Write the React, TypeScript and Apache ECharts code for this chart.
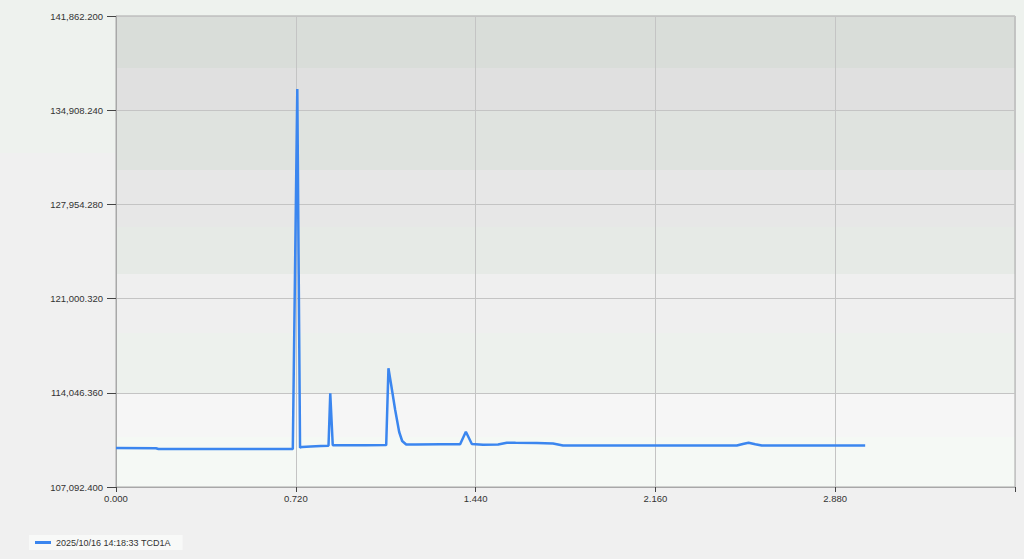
import React, { useEffect, useRef } from "react";
import * as echarts from "echarts";

const times: number[] = [
  0.0, 0.16, 0.17, 0.7, 0.708, 0.726, 0.737, 0.745, 0.78, 0.82, 0.851, 0.858, 0.868, 0.9, 1.0,
  1.082, 1.091, 1.102, 1.118, 1.134, 1.146, 1.162, 1.2, 1.3, 1.378, 1.401, 1.425, 1.47, 1.53,
  1.565, 1.6, 1.685, 1.75, 1.79, 2.0, 2.3, 2.486, 2.51, 2.533, 2.56, 2.586, 2.8, 3.0,
];
const signal: number[] = [
  109971, 109950, 109897, 109897, 109900, 136473, 109994, 110050, 110090, 110120, 110140, 114010,
  110170, 110175, 110180, 110185, 115855, 114622, 112777, 111153, 110488, 110230, 110230, 110240,
  110250, 111175, 110267, 110210, 110230, 110362, 110350, 110340, 110300, 110156, 110156, 110156,
  110150, 110270, 110362, 110250, 110150, 110150, 110150,
];
const yTicks: number[] = [107092.4, 114046.36, 121000.32, 127954.28, 134908.24, 141862.2];
const xLabels: number[] = [0, 0.72, 1.44, 2.16, 2.88];
const seriesName = "2025/10/16 14:18:33 TCD1A";

const fmtY = new Intl.NumberFormat("en-US", { minimumFractionDigits: 3, maximumFractionDigits: 3 });

export default function App() {
  const ref = useRef<HTMLDivElement>(null);
  useEffect(() => {
    if (!ref.current) return;
    const chart = echarts.init(ref.current, undefined, { renderer: "svg" });
    const top = 16, bottom = 487;
    const h = bottom - top;
    const bands: [number, number, string][] = [
      [16, 68, "#d9ddd9"],
      [68, 110, "#e0e0e0"],
      [110, 170, "#dfe3df"],
      [170, 227, "#e7e7e7"],
      [227, 274, "#e6eae6"],
      [274, 333, "#efefef"],
      [333, 393, "#edf1ed"],
      [393, 437, "#f6f6f6"],
      [437, 487, "#f5f9f5"],
    ];
    const stops: { offset: number; color: string }[] = [];
    bands.forEach(([a, b, c]) => {
      stops.push({ offset: (a - top) / h, color: c });
      stops.push({ offset: (b - top) / h, color: c });
    });
    const axisFont = { fontFamily: "'Liberation Sans', Arial, sans-serif", fontSize: 9.5, color: "#333" };
    chart.setOption({
      animation: false,
      backgroundColor: new echarts.graphic.LinearGradient(0, 0, 0, 1, [
        { offset: 0, color: "#eef2ee" },
        { offset: 0.273, color: "#eef2ee" },
        { offset: 0.274, color: "#f0f0f0" },
        { offset: 1, color: "#f0f0f0" },
      ]),
      grid: {
        left: 116,
        top: 16,
        right: 9,
        bottom: 72,
        show: true,
        borderColor: "#a8a8a8",
        borderWidth: 1,
        backgroundColor: new echarts.graphic.LinearGradient(0, 0, 0, 1, stops),
      },
      legend: {
        left: 29,
        top: 535,
        padding: [3, 12, 3, 6],
        backgroundColor: "#f8f9f8",
        icon: "rect",
        itemWidth: 16,
        itemHeight: 3,
        textStyle: {
          fontFamily: "'Liberation Sans Narrow', 'Liberation Sans', Arial, sans-serif",
          fontSize: 9,
          color: "#333",
        },
        data: [seriesName],
      },
      xAxis: {
        type: "value",
        min: 0,
        max: 3.6,
        interval: 0.72,
        axisLine: { show: true, lineStyle: { color: "#a8a8a8" } },
        axisTick: { show: true, length: 5, lineStyle: { color: "#444" } },
        splitLine: { show: true, lineStyle: { color: "#c4c4c4", width: 1 } },
        axisLabel: {
          ...axisFont,
          margin: 6,
          customValues: xLabels,
          formatter: (v: number) => v.toFixed(3),
        },
      },
      yAxis: {
        type: "value",
        min: yTicks[0],
        max: yTicks[yTicks.length - 1],
        axisLine: { show: true, lineStyle: { color: "#a8a8a8" } },
        axisTick: { show: true, length: 9, lineStyle: { color: "#444" }, customValues: yTicks },
        splitLine: { show: true, lineStyle: { color: "#c4c4c4", width: 1 } },
        axisLabel: {
          ...axisFont,
          margin: 13,
          customValues: yTicks,
          formatter: (v: number) => fmtY.format(v),
        },
      },
      series: [
        {
          name: seriesName,
          type: "line",
          data: times.map((t, i) => [t, signal[i]]),
          showSymbol: false,
          symbol: "none",
          lineStyle: { color: "#3b86ef", width: 2.5 },
          itemStyle: { color: "#3b86ef" },
        },
      ],
    });
    return () => chart.dispose();
  }, []);
  return (
    <div
      ref={ref}
      style={{ position: "absolute", left: 0, top: 0, width: 1024, height: 559 }}
    />
  );
}
